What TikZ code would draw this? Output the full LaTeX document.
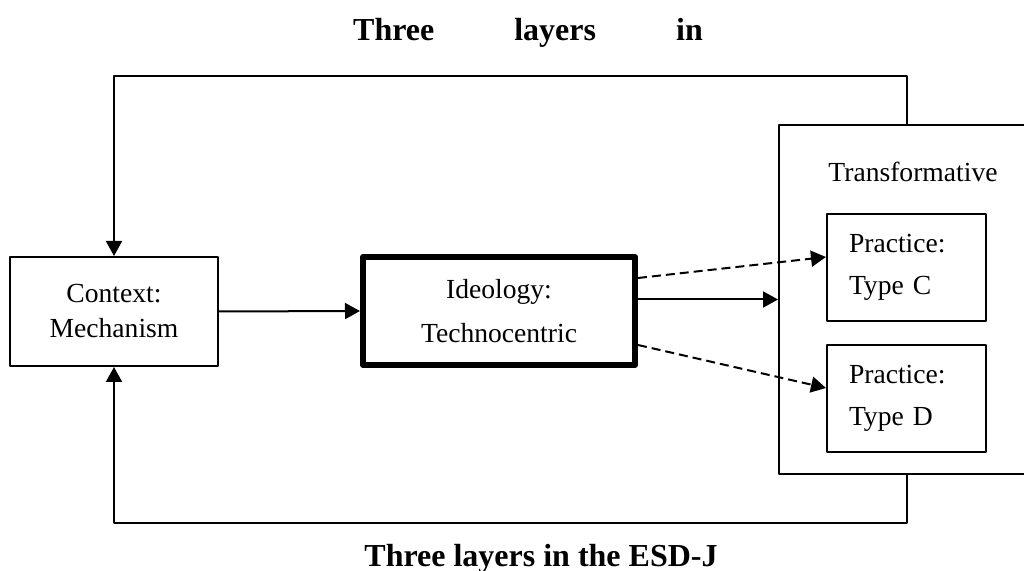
\documentclass[tikz,border=0pt]{standalone}
\usepackage{fontspec}
\setmainfont{Liberation Serif}
\usetikzlibrary{arrows.meta}
\begin{document}
\begin{tikzpicture}[x=.5pt,y=-.5pt,line join=round,line width=1pt,
  >={Triangle[length=7.5pt,width=8pt]},
  font=\fontsize{13.8}{17.5}\selectfont]
\tikzset{hop/.style={draw,align=center,inner sep=0pt},
  loai/.style={draw,align=left,text width=57.5pt,inner xsep=11pt,inner ysep=0pt,minimum height=53.5pt},
  tieude/.style={font=\fontsize{16}{19}\selectfont\bfseries,anchor=base},
  netdut/.style={dash pattern=on 4.5pt off 2.5pt}}
\useasboundingbox (0,0) rectangle (1024,571);
\path
(528,41) node[tieude] (tren) {Three\hspace{40pt}layers\hspace{40pt}in}
(541,567) node[tieude] (duoi) {Three layers in the ESD-J}
(114,311.5) node[hop,minimum width=104pt,minimum height=54.5pt] (ctx) {Context:\\Mechanism}
(499,311) node[hop,line width=3pt,minimum width=136pt,minimum height=54pt] (ideo) {Ideology:\\[4.5pt]Technocentric}
(907,299.5) node[draw,minimum width=128pt,minimum height=174.5pt] (trans) {} % khung lon
(913,182) node[anchor=base] (transname) {Transformative}
(906.5,267.5) node[loai] (typeC) {Practice:\\[3.5pt]Type C}
(906.5,398.5) node[loai] (typeD) {Practice:\\[3.5pt]Type D};
\draw[->] (ctx.east)--(ideo.west);
\draw[->] (ideo.east |- trans.west)--(trans.west);
\draw[->,netdut] ([yshift=16.5pt]ideo.east)--([yshift=5.25pt]typeC.west);
\draw[->,netdut] ([yshift=-17pt]ideo.east)--([yshift=5.25pt]typeD.west);
\draw[->] (trans.north)--++(0,-48) -| (ctx.north); % vong tren
\draw[->] (trans.south)--++(0,48) -| (ctx.south); % vong duoi
\end{tikzpicture}
\end{document}
